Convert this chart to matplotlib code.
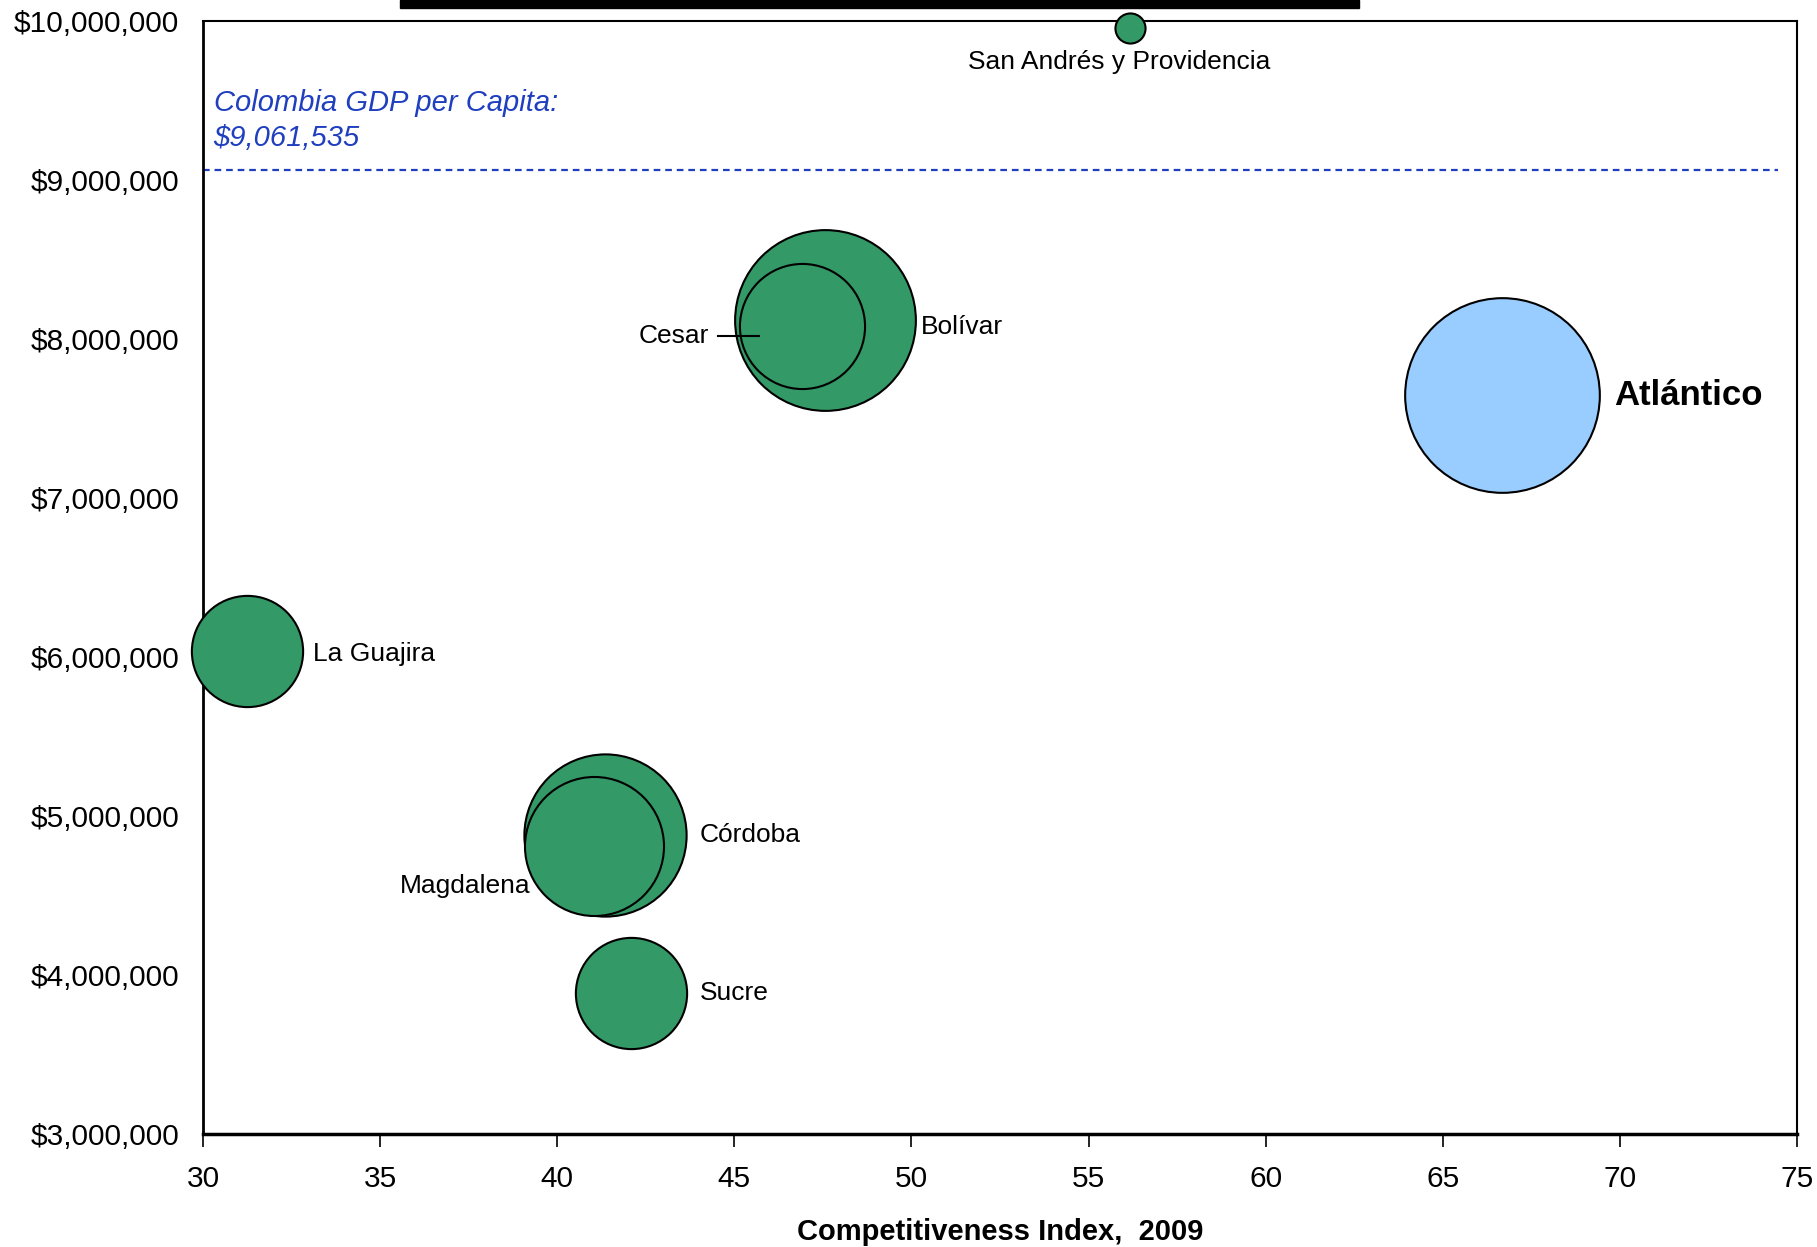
import numpy as np
import matplotlib
matplotlib.use('Agg')
import matplotlib.pyplot as plt
from matplotlib.ticker import FuncFormatter
from matplotlib.patches import Rectangle

plt.rcParams['font.family'] = ['Liberation Sans', 'DejaVu Sans']

# data
regions = ['San Andrés y Providencia', 'Bolívar', 'Cesar', 'Atlántico',
           'La Guajira', 'Córdoba', 'Magdalena', 'Sucre']
comp_index = [56.16, 47.56, 46.9, 66.66, 31.24, 41.35, 41.05, 42.07]
gdp_pc = [9956000, 8120000, 8085000, 7647000, 6040000, 4880000, 4810000, 3890000]
population = [55, 1983, 950, 2300, 751, 1597, 1173, 751]   # thousands, bubble size
colombia_gdp = 9061535

# label placement (data coords) and alignment
lab_xy = {'San Andrés y Providencia': (55.87, 9745000, 'center'),
          'Bolívar': (50.27, 8077000, 'left'),
          'Cesar': (44.29, 8020000, 'right'),
          'Atlántico': (69.83, 7647000, 'left'),
          'La Guajira': (33.11, 6020000, 'left'),
          'Córdoba': (44.03, 4880000, 'left'),
          'Magdalena': (39.25, 4560000, 'right'),
          'Sucre': (44.03, 3890000, 'left')}

DPI = 100
fig = plt.figure(figsize=(18.17, 12.47), dpi=DPI)
ax = fig.add_axes([0.1117, 0.0906, 0.8773, 0.8924])

r_max = 84 * 1.1588  # px radius of the largest bubble
pmax = max(population)
for name, x, y, p in zip(regions, comp_index, gdp_pc, population):
    r = r_max * np.sqrt(p / pmax)
    s = (2 * r * 72 / DPI) ** 2
    col = '#99ccff' if name == 'Atlántico' else '#339966'
    ax.scatter([x], [y], s=s, c=col, edgecolors='black', linewidths=1.5,
               zorder=3, clip_on=False)

for name in regions:
    lx, ly, ha = lab_xy[name]
    if name == 'Atlántico':
        ax.text(lx, ly, name, ha=ha, va='center', fontsize=25, fontweight='bold', zorder=5)
    else:
        ax.text(lx, ly, name, ha=ha, va='center', fontsize=19, zorder=5)
# leader for Cesar
ax.plot([44.55, 45.70], [8020000, 8020000], color='black', lw=1.5, zorder=5)

ax.axhline(colombia_gdp, xmin=0, xmax=0.988, color='#1f3fbf', lw=1.6,
           ls=(0, (3, 2.2)), zorder=2)
ax.text(30.3, 9483000, 'Colombia GDP per Capita:', color='#1f3fbf',
        fontsize=21, style='italic', va='center')
ax.text(30.3, 9264000, '$9,061,535', color='#1f3fbf',
        fontsize=21, style='italic', va='center')

ax.set_xlim(30, 75)
ax.set_ylim(3000000, 10000000)
ax.set_xticks(np.arange(30, 76, 5))
ax.set_yticks(np.arange(3000000, 10000001, 1000000))
ax.yaxis.set_major_formatter(FuncFormatter(lambda v, _: '${:,.0f}'.format(v)))
ax.tick_params(axis='x', direction='out', length=9, width=1.2, pad=13, labelsize=21.5)
ax.tick_params(axis='y', length=0, pad=17, labelsize=21.5)
for sp in ax.spines.values():
    sp.set_color('black')
    sp.set_linewidth(1.5)
ax.spines['left'].set_linewidth(2)
ax.spines['bottom'].set_linewidth(2.5)
ax.set_xlabel('Competitiveness Index,  2009', fontsize=21, fontweight='bold', labelpad=18)

# cut-off title underline at top
fig.patches.append(Rectangle((0.220, 0.9936), 0.528, 0.0064, transform=fig.transFigure,
                             color='black', zorder=10))

fig.savefig('out.png', dpi=DPI)
